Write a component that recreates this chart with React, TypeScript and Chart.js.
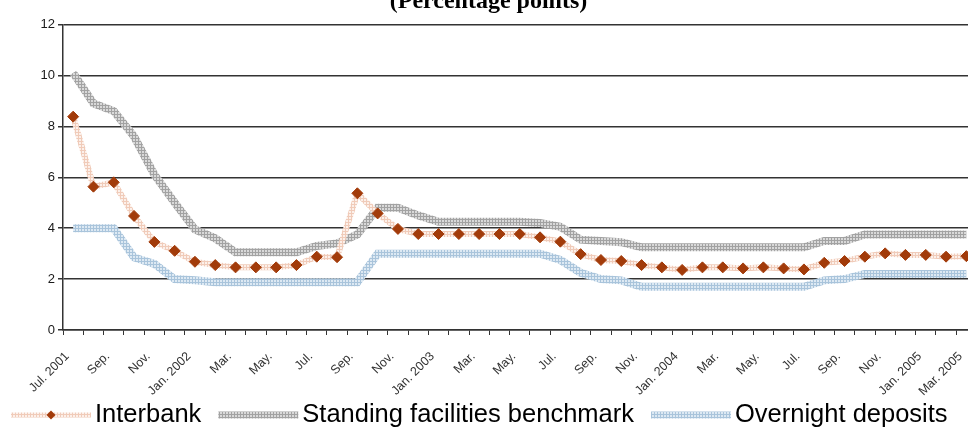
import React, { useEffect, useRef } from 'react';
import { Chart, registerables } from 'chart.js';

Chart.register(...registerables);

const months = [
  'Jul. 2001', 'Aug. 2001', 'Sep. 2001', 'Oct. 2001', 'Nov. 2001', 'Dec. 2001',
  'Jan. 2002', 'Feb. 2002', 'Mar. 2002', 'Apr. 2002', 'May. 2002', 'Jun. 2002',
  'Jul. 2002', 'Aug. 2002', 'Sep. 2002', 'Oct. 2002', 'Nov. 2002', 'Dec. 2002',
  'Jan. 2003', 'Feb. 2003', 'Mar. 2003', 'Apr. 2003', 'May. 2003', 'Jun. 2003',
  'Jul. 2003', 'Aug. 2003', 'Sep. 2003', 'Oct. 2003', 'Nov. 2003', 'Dec. 2003',
  'Jan. 2004', 'Feb. 2004', 'Mar. 2004', 'Apr. 2004', 'May. 2004', 'Jun. 2004',
  'Jul. 2004', 'Aug. 2004', 'Sep. 2004', 'Oct. 2004', 'Nov. 2004', 'Dec. 2004',
  'Jan. 2005', 'Feb. 2005', 'Mar. 2005',
];

const tickLabels = [
  'Jul. 2001', '', 'Sep.', '', 'Nov.', '', 'Jan. 2002', '', 'Mar.', '', 'May.', '',
  'Jul.', '', 'Sep.', '', 'Nov.', '', 'Jan. 2003', '', 'Mar.', '', 'May.', '',
  'Jul.', '', 'Sep.', '', 'Nov.', '', 'Jan. 2004', '', 'Mar.', '', 'May.', '',
  'Jul.', '', 'Sep.', '', 'Nov.', '', 'Jan. 2005', '', 'Mar. 2005',
];

const interbank = [
  8.38, 5.63, 5.8, 4.48, 3.46, 3.11, 2.68, 2.55, 2.46, 2.46, 2.46, 2.55,
  2.88, 2.86, 5.37, 4.58, 3.97, 3.77, 3.77, 3.77, 3.77, 3.77, 3.77, 3.64,
  3.47, 2.98, 2.75, 2.71, 2.55, 2.46, 2.36, 2.46, 2.46, 2.42, 2.46, 2.42,
  2.38, 2.64, 2.71, 2.88, 3.01, 2.95, 2.95, 2.88, 2.9,
];

const standingFacilities = [
  10.1, 8.9, 8.6, 7.6, 6.1, 5.0, 3.95, 3.6, 3.05, 3.05, 3.05, 3.05,
  3.3, 3.4, 3.75, 4.8, 4.8, 4.5, 4.25, 4.25, 4.25, 4.25, 4.25, 4.2,
  4.05, 3.55, 3.5, 3.45, 3.25, 3.25, 3.25, 3.25, 3.25, 3.25, 3.25, 3.25,
  3.25, 3.5, 3.5, 3.75, 3.75, 3.75, 3.75, 3.75, 3.75,
];

const overnightDeposits = [
  4.0, 4.0, 4.0, 2.85, 2.6, 2.0, 1.95, 1.88, 1.88, 1.88, 1.88, 1.88,
  1.88, 1.88, 1.88, 3.0, 3.0, 3.0, 3.0, 3.0, 3.0, 3.0, 3.0, 3.0,
  2.75, 2.25, 2.0, 1.95, 1.7, 1.7, 1.7, 1.7, 1.7, 1.7, 1.7, 1.7,
  1.7, 1.95, 2.0, 2.2, 2.2, 2.2, 2.2, 2.2, 2.2,
];

const seriesNames = ['Interbank', 'Standing facilities benchmark', 'Overnight deposits'];
const yTicks = [0, 2, 4, 6, 8, 10, 12];

function makePattern(ctx: CanvasRenderingContext2D, bg: string, fg: string) {
  const tile = document.createElement('canvas');
  tile.width = 3;
  tile.height = 3;
  const t = tile.getContext('2d')!;
  t.fillStyle = bg;
  t.fillRect(0, 0, 3, 3);
  t.fillStyle = fg;
  t.fillRect(0, 0, 3, 1);
  t.fillRect(0, 0, 1, 3);
  return ctx.createPattern(tile, 'repeat') as CanvasPattern;
}

const SANS = "'Liberation Sans', Arial, Helvetica, sans-serif";

const legendPlugin = {
  id: 'customLegend',
  afterDraw(chart: any) {
    const ctx: CanvasRenderingContext2D = chart.ctx;
    const y = chart.height - 15;
    let x = 11;
    ctx.save();
    ctx.font = `25.5px ${SANS}`;
    ctx.textBaseline = 'middle';
    ctx.textAlign = 'left';
    chart.data.datasets.forEach((ds: any) => {
      const w = 80;
      ctx.strokeStyle = ds.borderColor;
      ctx.lineWidth = ds.borderWidth - 1;
      ctx.beginPath();
      ctx.moveTo(x, y);
      ctx.lineTo(x + w, y);
      ctx.stroke();
      if (ds.pointRadius > 0) {
        const cx = x + w / 2;
        const r = 4.5;
        ctx.fillStyle = ds.pointBackgroundColor;
        ctx.beginPath();
        ctx.moveTo(cx, y - r);
        ctx.lineTo(cx + r, y);
        ctx.lineTo(cx, y + r);
        ctx.lineTo(cx - r, y);
        ctx.closePath();
        ctx.fill();
      }
      x += w + 4;
      ctx.fillStyle = '#000';
      ctx.fillText(ds.label, x, y);
      x += ctx.measureText(ds.label).width + 17;
    });
    ctx.restore();
  },
};

export default function App() {
  const canvasRef = useRef<HTMLCanvasElement | null>(null);

  useEffect(() => {
    const canvas = canvasRef.current!;
    const ctx = canvas.getContext('2d')!;
    const pink = makePattern(ctx, '#fcf0ea', '#f0cbb9');
    const gray = makePattern(ctx, '#d9d9d9', '#a2a2a2');
    const blue = makePattern(ctx, '#dde9f3', '#a9c4db');

    const chart = new Chart(canvas, {
      type: 'line',
      data: {
        labels: months,
        datasets: [
          {
            label: seriesNames[0],
            data: interbank,
            borderColor: pink as any,
            borderWidth: 6,
            tension: 0,
            pointStyle: 'rectRot',
            pointRadius: 5.5,
            pointBackgroundColor: '#a23b0a',
            pointBorderColor: '#a23b0a',
            pointBorderWidth: 1,
          },
          {
            label: seriesNames[1],
            data: standingFacilities,
            borderColor: gray as any,
            borderWidth: 8,
            tension: 0,
            pointRadius: 0,
          },
          {
            label: seriesNames[2],
            data: overnightDeposits,
            borderColor: blue as any,
            borderWidth: 8,
            tension: 0,
            pointRadius: 0,
          },
        ],
      },
      options: {
        responsive: false,
        animation: false,
        events: [],
        layout: { padding: { left: 0, right: 6, top: 0, bottom: 32 } },
        plugins: {
          legend: { display: false },
          tooltip: { enabled: false },
          title: {
            display: true,
            text: '(Percentage points)',
            color: '#000',
            font: { family: "'Liberation Serif', 'Times New Roman', serif", size: 24, weight: 'bold' },
            padding: { top: 2.5, bottom: 8.2 },
          },
        },
        scales: {
          x: {
            type: 'category',
            offset: true,
            grid: {
              offset: true,
              drawOnChartArea: false,
              drawTicks: true,
              tickLength: 5,
              color: '#333',
              lineWidth: 1,
            },
            border: { display: true, color: '#333', width: 1.5 },
            ticks: {
              autoSkip: false,
              minRotation: 45,
              maxRotation: 45,
              color: '#333',
              font: { family: SANS, size: 12.5 },
              padding: 14,
              labelOffset: -6,
              callback: (_v: any, i: number) => tickLabels[i],
            },
            afterFit: (scale: any) => {
              scale.height = 68;
              scale.paddingLeft = 0;
              scale.paddingRight = 0;
            },
          },
          y: {
            min: yTicks[0],
            max: yTicks[yTicks.length - 1],
            afterBuildTicks: (scale: any) => {
              scale.ticks = yTicks.map((v) => ({ value: v }));
            },
            grid: {
              drawOnChartArea: true,
              drawTicks: true,
              tickLength: 5,
              color: '#333',
              lineWidth: 1.5,
            },
            border: { display: true, color: '#333', width: 1.5 },
            ticks: {
              color: '#1a1a1a',
              font: { family: SANS, size: 13 },
              padding: 3,
            },
            afterFit: (scale: any) => {
              scale.width = 63;
            },
          },
        },
      },
      plugins: [legendPlugin],
    });
    return () => chart.destroy();
  }, []);

  return (
    <div
      style={{
        position: 'fixed',
        left: 0,
        top: 0,
        width: 968,
        height: 430,
        overflow: 'hidden',
        background: '#fff',
      }}
    >
      <canvas
        ref={canvasRef}
        width={983}
        height={445}
        style={{ position: 'absolute', left: 0, top: -15, width: 983, height: 445 }}
      />
    </div>
  );
}
